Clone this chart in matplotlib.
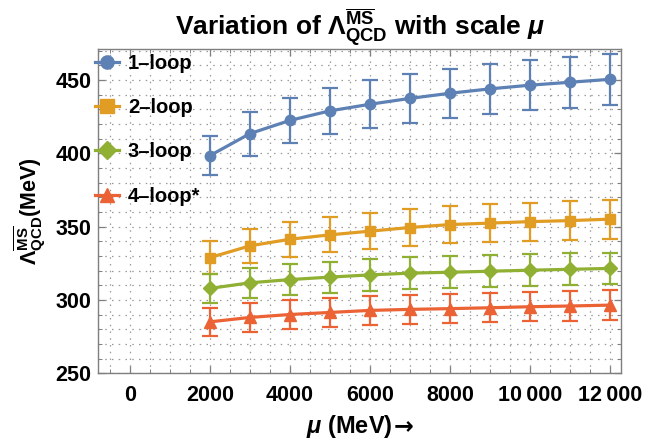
import matplotlib
matplotlib.use("Agg")
import matplotlib.pyplot as plt
from matplotlib.ticker import MultipleLocator
from matplotlib.lines import Line2D

plt.rcParams['font.family'] = ['Liberation Sans', 'DejaVu Sans']
plt.rcParams['font.weight'] = 'bold'
plt.rcParams['mathtext.fontset'] = 'custom'
plt.rcParams['mathtext.rm'] = 'Liberation Sans:bold'
plt.rcParams['mathtext.bf'] = 'Liberation Sans:bold'
plt.rcParams['mathtext.sf'] = 'Liberation Sans:bold'
plt.rcParams['mathtext.it'] = 'Liberation Sans:bold:italic'

# ---- data ----
mu = [2000, 3000, 4000, 5000, 6000, 7000, 8000, 9000, 10000, 11000, 12000]
loop1 = [398.5, 413.5, 422.5, 429.0, 433.5, 437.5, 441.0, 444.0, 446.5, 448.5, 450.5]
err1 = [13.4, 15.0, 15.3, 15.8, 16.2, 16.6, 16.8, 17.0, 17.2, 17.4, 17.4]
loop2 = [329.0, 337.0, 341.5, 344.5, 347.0, 349.5, 351.5, 352.5, 353.5, 354.2, 355.2]
err2 = [11.0, 11.6, 11.8, 12.0, 12.2, 12.4, 12.6, 12.8, 13.0, 13.1, 13.3]
loop3 = [308.0, 311.8, 314.0, 315.7, 317.2, 318.4, 319.0, 319.7, 320.4, 321.0, 321.6]
err3 = [10.0, 10.4, 10.5, 10.6, 10.7, 10.9, 11.0, 11.0, 10.9, 10.8, 10.8]
loop4 = [285.2, 288.2, 290.2, 291.6, 293.0, 293.7, 294.2, 294.8, 295.5, 296.0, 296.6]
err4 = [9.7, 9.8, 9.7, 10.0, 9.9, 9.8, 9.9, 9.9, 10.0, 10.0, 10.0]
labels = ['1\u2013loop', '2\u2013loop', '3\u2013loop', '4\u2013loop*']
xticks = [0, 2000, 4000, 6000, 8000, 10000, 12000]
xticklabels = ['0', '2000', '4000', '6000', '8000', '10\u2009000', '12\u2009000']
yticks = [250, 300, 350, 400, 450]

series = [loop1, loop2, loop3, loop4]
errs = [err1, err2, err3, err4]
colors = ['#5E81B5', '#E19C24', '#8FB032', '#EB6235']
markers = ['o', 's', 'D', '^']
msizes = [7.5, 7.5, 7.0, 8.0]

fig = plt.figure(figsize=(6.45, 4.45), dpi=100)
ax = fig.add_axes([0.1524, 0.1607, 0.9628 - 0.1524, 0.891 - 0.1607])

handles = []
for y, e, c, m, ms, lab in zip(series, errs, colors, markers, msizes, labels):
    ax.errorbar(mu, y, yerr=e, fmt='none', ecolor=c, elinewidth=1.6,
                capsize=5.5, capthick=1.6, zorder=3)
    ax.plot(mu, y, color=c, lw=2.3, marker=m, ms=ms, mec=c, mfc=c, zorder=4)
    handles.append(Line2D([], [], color=c, lw=2.3, marker=m, ms=ms + 2,
                          mec=c, mfc=c, label=lab))

ax.set_xlim(-790, 12275)
ax.set_ylim(250, 471.5)

ax.set_xticks(xticks)
ax.set_xticklabels(xticklabels)
ax.xaxis.set_minor_locator(MultipleLocator(500))
ax.set_yticks(yticks)
ax.yaxis.set_minor_locator(MultipleLocator(10))

ax.grid(which='both', color='#9a9a9a', lw=0.9, linestyle=(0, (1.2, 4.2)))
ax.set_axisbelow(True)

for s in ax.spines.values():
    s.set_color('#7f7f7f')
    s.set_linewidth(1.0)

ax.tick_params(which='both', direction='in', top=True, right=True,
               color='#7f7f7f', labelsize=15.5)
ax.tick_params(which='major', length=5, width=0.9)
ax.tick_params(which='minor', length=3, width=0.7)
ax.tick_params(axis='x', which='major', pad=8)
ax.tick_params(axis='y', which='major', pad=5)
for t in ax.get_xticklabels() + ax.get_yticklabels():
    t.set_fontweight('bold')

ax.set_title(r'Variation of $\Lambda^{\overline{\mathrm{MS}}}_{\mathrm{QCD}}$ with scale $\mu$',
             fontsize=19, fontweight='bold', pad=7)
xl = ax.set_xlabel('$\\mu$ (MeV)', fontsize=17, fontweight='bold', labelpad=5)
xl.set_x(0.48)
ax.annotate('\u2192', xy=(1.0, 0.5), xycoords=xl, xytext=(1, 0),
            textcoords='offset points', ha='left', va='center',
            fontsize=17, fontweight='bold', family='DejaVu Sans')
ax.set_ylabel(r'$\Lambda^{\overline{\mathrm{MS}}}_{\mathrm{QCD}}$(MeV)', fontsize=15.5,
              fontweight='bold', labelpad=5)

leg = ax.legend(handles=handles, loc='upper left', bbox_to_anchor=(-0.03, 1.02),
                frameon=False, fontsize=14.5, handlelength=1.2, handletextpad=0.45,
                labelspacing=1.25, borderaxespad=0.2)
for t in leg.get_texts():
    t.set_fontweight('bold')

fig.savefig('out.png', dpi=100)
